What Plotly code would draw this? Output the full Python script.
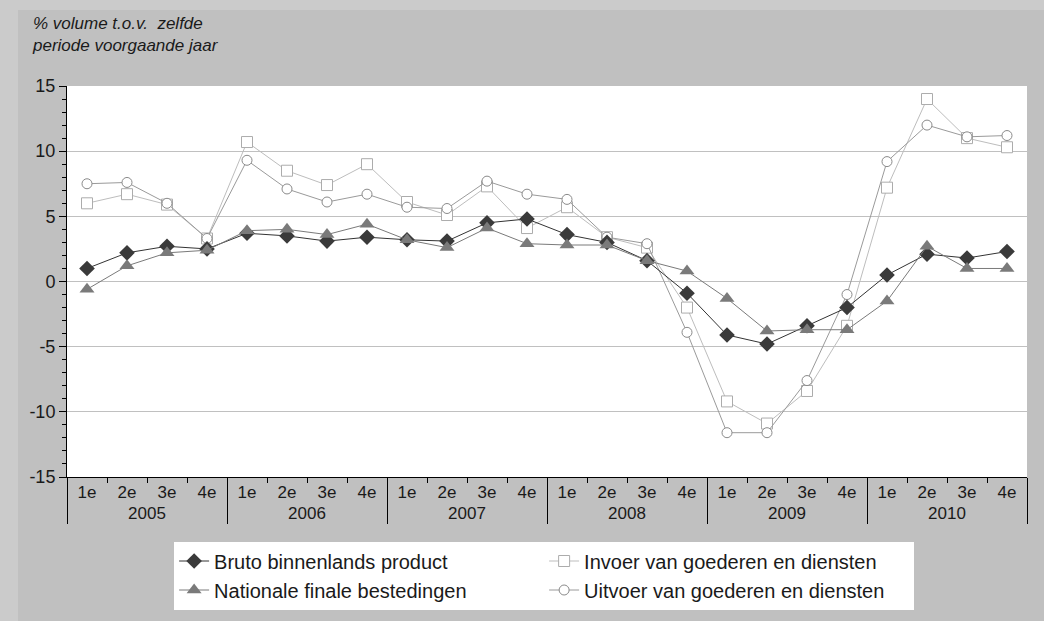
import plotly.graph_objects as go

years = ["2005"] * 4 + ["2006"] * 4 + ["2007"] * 4 + ["2008"] * 4 + ["2009"] * 4 + ["2010"] * 4
quarters = ["1e", "2e", "3e", "4e"] * 6

bbp = [1.0, 2.2, 2.7, 2.5, 3.7, 3.5, 3.1, 3.4, 3.2, 3.1, 4.5, 4.8,
       3.6, 3.0, 1.6, -0.9, -4.1, -4.8, -3.4, -2.0, 0.5, 2.1, 1.8, 2.3]
nfb = [-0.6, 1.2, 2.2, 2.4, 3.9, 4.0, 3.6, 4.4, 3.2, 2.6, 4.1, 2.9,
       2.8, 2.8, 1.6, 0.8, -1.3, -3.8, -3.7, -3.7, -1.5, 2.7, 1.0, 1.0]
invoer = [6.0, 6.7, 5.9, 3.3, 10.7, 8.5, 7.4, 9.0, 6.1, 5.1, 7.3, 4.1,
          5.7, 3.4, 2.6, -2.0, -9.2, -10.9, -8.4, -3.4, 7.2, 14.0, 11.0, 10.3]
uitvoer = [7.5, 7.6, 6.0, 3.3, 9.3, 7.1, 6.1, 6.7, 5.7, 5.6, 7.7, 6.7,
           6.3, 3.4, 2.9, -3.9, -11.6, -11.6, -7.6, -1.0, 9.2, 12.0, 11.1, 11.2]

y_ticks = [-15, -10, -5, 0, 5, 10, 15]
y_ticktext = ["-15", "-10", "-5", "0", "5", "10", "15"]

names = {
    "bbp": "Bruto binnenlands product",
    "nfb": "Nationale finale bestedingen",
    "inv": "Invoer van goederen en diensten",
    "uit": "Uitvoer van goederen en diensten",
}

x = [years, quarters]
FONT = "Liberation Sans, Arial, sans-serif"

fig = go.Figure()
fig.add_trace(go.Scatter(
    x=x, y=invoer, name=names["inv"], mode="lines+markers", legendrank=2,
    line=dict(color="#bdbdbd", width=1),
    marker=dict(symbol="square", size=11, color="white", line=dict(color="#acacac", width=1))))
fig.add_trace(go.Scatter(
    x=x, y=uitvoer, name=names["uit"], mode="lines+markers", legendrank=4,
    line=dict(color="#9a9a9a", width=1),
    marker=dict(symbol="circle", size=10, color="white", line=dict(color="#8a8a8a", width=1))))
fig.add_trace(go.Scatter(
    x=x, y=bbp, name=names["bbp"], mode="lines+markers", legendrank=1,
    line=dict(color="#333333", width=1),
    marker=dict(symbol="diamond", size=12, color="#3a3a3a", line=dict(width=0))))
fig.add_trace(go.Scatter(
    x=x, y=nfb, name=names["nfb"], mode="lines+markers", legendrank=3,
    line=dict(color="#7a7a7a", width=1),
    marker=dict(symbol="triangle-up", size=13, color="#7a7a7a", line=dict(width=0))))

fig.update_layout(
    width=1044, height=621,
    margin=dict(l=67, r=17, t=86, b=144),
    paper_bgcolor="#cbcbcb",
    plot_bgcolor="rgba(0,0,0,0)",
    font=dict(family=FONT, size=16, color="#1a1a1a"),
    showlegend=True,
    legend=dict(
        orientation="h", x=0.497, xanchor="center", y=-0.165, yanchor="top",
        bgcolor="white", borderwidth=0, entrywidth=325,
        font=dict(family=FONT, size=20, color="#1a1a1a"),
        tracegroupgap=0,
    ),
    shapes=[
        dict(type="rect", xref="paper", yref="paper",
             x0=(18 - 67) / 960, x1=(1044 - 67) / 960,
             y0=(477 - 621) / 391, y1=(477 - 10) / 391,
             fillcolor="#c0c0c0", line=dict(width=0), layer="below"),
        dict(type="rect", xref="x domain", yref="y domain",
             x0=0, x1=1, y0=0, y1=1,
             fillcolor="white", line=dict(width=0), layer="below"),
    ],
    annotations=[
        dict(text="<i>% volume t.o.v.  zelfde<br>periode voorgaande jaar</i>",
             xref="paper", yref="paper", x=(30 - 67) / 960, y=(477 - 12) / 391,
             xanchor="left", yanchor="top", align="left", showarrow=False,
             font=dict(family=FONT, size=17, color="#1a1a1a")),
    ],
)

fig.update_xaxes(
    type="multicategory", range=[-0.5, 23.5],
    showline=True, linecolor="#000000", linewidth=1,
    ticks="outside", ticklen=5, tickcolor="#000000",
    dividercolor="#000000", dividerwidth=1,
    showgrid=False, zeroline=False,
    tickfont=dict(family=FONT, size=17, color="#1a1a1a"),
)
fig.update_yaxes(
    range=[-15, 15], tickvals=y_ticks, ticktext=y_ticktext,
    showline=True, linecolor="#000000", linewidth=1,
    ticks="outside", ticklen=7, tickcolor="#000000",
    minor=dict(dtick=1, tick0=0, ticks="outside", ticklen=4, tickcolor="#000000", showgrid=False),
    showgrid=True, gridcolor="#c0c0c0", gridwidth=1,
    zeroline=False,
    tickfont=dict(family=FONT, size=18, color="#1a1a1a"),
)

fig.write_html("out.html", config={"displayModeBar": False})

with open("out.html", "r", encoding="utf-8") as f:
    html = f.read()
html = html.replace("<head>", "<head><style>html,body{margin:0;padding:0;overflow:hidden;}</style>", 1)
with open("out.html", "w", encoding="utf-8") as f:
    f.write(html)
